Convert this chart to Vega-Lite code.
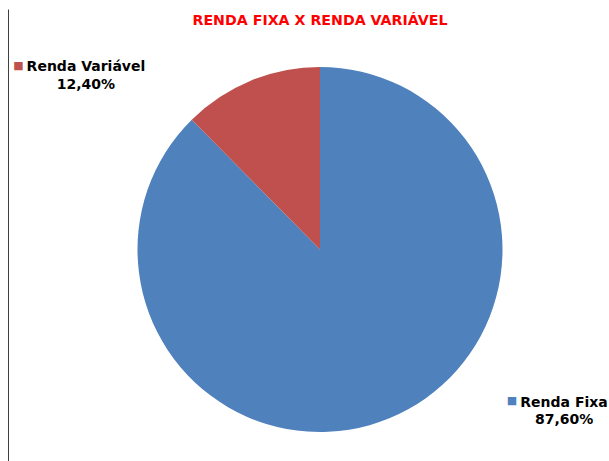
{
  "$schema": "https://vega.github.io/schema/vega-lite/v6.json",
  "width": 578,
  "height": 423,
  "autosize": {"type": "none"},
  "padding": {"left": 31, "top": 38, "right": 0, "bottom": 0},
  "background": "white",
  "config": {"view": {"stroke": null}, "font": "DejaVu Sans"},
  "title": {
    "text": "RENDA FIXA X RENDA VARIÁVEL",
    "color": "#FF0000",
    "fontSize": 14.2,
    "fontWeight": "bold",
    "font": "DejaVu Sans",
    "anchor": "middle",
    "frame": "group",
    "baseline": "alphabetic",
    "offset": -5
  },
  "data": {
    "values": [
      {"categoria": "Renda Fixa", "percentual": 87.6, "rotulo": "Renda Fixa\n87,60%"},
      {"categoria": "Renda Variável", "percentual": 12.4, "rotulo": "Renda Variável\n12,40%"}
    ]
  },
  "layer": [
    {
      "mark": {"type": "rule", "opacity": 0},
      "encoding": {
        "y": {
          "datum": 0,
          "type": "quantitative",
          "scale": {"domain": [0, 1], "range": [423, -29]},
          "axis": {"domain": true, "domainColor": "#404040", "domainWidth": 1, "ticks": false, "labels": false, "grid": false, "title": null, "offset": 23}
        }
      }
    },
    {
      "mark": {"type": "arc", "outerRadius": 182.5},
      "encoding": {
        "theta": {"field": "percentual", "type": "quantitative", "stack": true},
        "color": {
          "field": "categoria",
          "type": "nominal",
          "scale": {"domain": ["Renda Fixa", "Renda Variável"], "range": ["#4F81BD", "#C0504D"]},
          "legend": null
        }
      }
    },
    {
      "mark": {"type": "text", "radius": 195, "dx": 170, "dy": -23, "align": "center", "baseline": "alphabetic", "fontSize": 14, "fontWeight": "bold", "font": "DejaVu Sans", "lineBreak": "\n", "lineHeight": 17.5, "color": "black"},
      "encoding": {
        "theta": {"field": "percentual", "type": "quantitative", "stack": true},
        "detail": {"field": "categoria", "type": "nominal"},
        "text": {"condition": {"test": "datum.categoria === 'Renda Fixa'", "field": "rotulo"}, "value": ""}
      }
    },
    {
      "mark": {"type": "text", "radius": 195, "dx": -160, "dy": 2, "align": "center", "baseline": "alphabetic", "fontSize": 14, "fontWeight": "bold", "font": "DejaVu Sans", "lineBreak": "\n", "lineHeight": 17.5, "color": "black"},
      "encoding": {
        "theta": {"field": "percentual", "type": "quantitative", "stack": true},
        "detail": {"field": "categoria", "type": "nominal"},
        "text": {"condition": {"test": "datum.categoria === 'Renda Variável'", "field": "rotulo"}, "value": ""}
      }
    },
    {
      "mark": {"type": "text", "radius": 195, "dx": 118, "dy": -29, "align": "center", "baseline": "middle", "fontSize": 11, "font": "DejaVu Sans"},
      "encoding": {
        "theta": {"field": "percentual", "type": "quantitative", "stack": true},
        "color": {"field": "categoria", "type": "nominal", "legend": null},
        "text": {"condition": {"test": "datum.categoria === 'Renda Fixa'", "value": "■"}, "value": ""}
      }
    },
    {
      "mark": {"type": "text", "radius": 195, "dx": -227.4, "dy": -3, "align": "center", "baseline": "middle", "fontSize": 11, "font": "DejaVu Sans"},
      "encoding": {
        "theta": {"field": "percentual", "type": "quantitative", "stack": true},
        "color": {"field": "categoria", "type": "nominal", "legend": null},
        "text": {"condition": {"test": "datum.categoria === 'Renda Variável'", "value": "■"}, "value": ""}
      }
    }
  ]
}
